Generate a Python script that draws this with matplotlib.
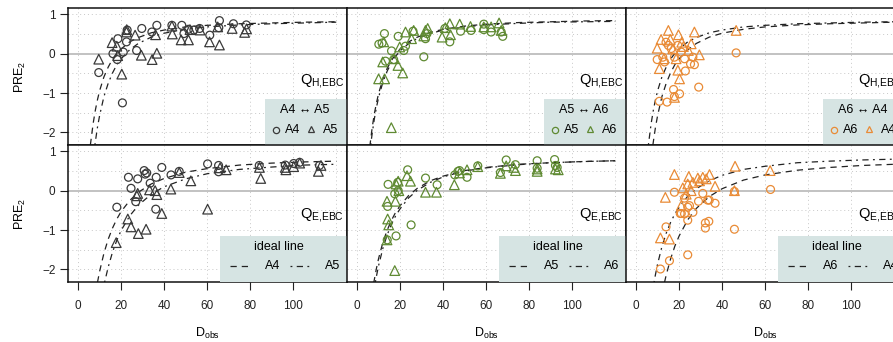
import matplotlib
matplotlib.use('Agg')
import matplotlib.pyplot as plt
from matplotlib.patches import Rectangle

plt.rcParams['font.family'] = ['Liberation Sans', 'DejaVu Sans']
plt.rcParams['mathtext.fontset'] = 'custom'
plt.rcParams['mathtext.rm'] = 'Liberation Sans'

# ---- observed points (D_obs, PRE_2) ----
tl_a4_d = [9.6, 16.2, 18.2, 18.5, 21.0, 20.6, 22.5, 27.2, 29.6, 34.3, 36.6, 43.6, 48.2, 49.2, 51.3, 56.5, 61.2, 65.7, 65.4, 72.2, 78.2, 22.8, 53.8]
tl_a4_y = [-0.48, 0.00, -0.15, 0.38, 0.04, -1.25, 0.30, 0.08, 0.64, 0.55, 0.72, 0.72, 0.72, 0.51, 0.62, 0.64, 0.47, 0.84, 0.66, 0.76, 0.73, 0.60, 0.60]
tl_a5_d = [9.6, 15.8, 18.0, 18.4, 20.3, 22.5, 22.6, 26.5, 29.4, 34.4, 36.6, 36.0, 43.6, 43.8, 47.9, 51.3, 52.0, 56.7, 61.1, 65.7, 64.9, 71.6, 77.4, 78.3]
tl_a5_y = [-0.14, 0.28, 0.19, -0.05, -0.52, 0.55, 0.61, 0.47, -0.04, -0.15, 0.01, 0.48, 0.70, 0.50, 0.35, 0.35, 0.61, 0.60, 0.30, 0.22, 0.68, 0.64, 0.54, 0.63]

tm_a5_d = [12.7, 10.1, 11.6, 19.1, 16.0, 13.2, 17.0, 22.5, 21.7, 26.0, 31.0, 31.8, 32.5, 40.8, 43.1, 48.1, 53.0, 58.9, 58.9, 62.3, 67.0, 67.7]
tm_a5_y = [0.51, 0.24, 0.27, 0.44, 0.07, -0.19, -0.15, 0.19, 0.08, 0.57, -0.08, 0.38, 0.51, 0.64, 0.30, 0.57, 0.59, 0.75, 0.61, 0.55, 0.55, 0.44]
tm_a6_d = [15.9, 10.0, 12.8, 11.9, 17.0, 19.0, 21.2, 19.8, 22.5, 26.3, 25.3, 31.8, 32.8, 39.5, 43.1, 43.4, 47.7, 52.7, 58.9, 62.3, 66.0, 67.0, 12.4, 41.0, 31.0]
tm_a6_y = [-1.88, -0.64, -0.64, -0.21, -0.13, -0.30, -0.49, 0.17, 0.55, 0.59, 0.38, 0.59, 0.64, 0.42, 0.76, 0.48, 0.75, 0.69, 0.68, 0.68, 0.78, 0.59, 0.30, 0.66, 0.45]

tr_a6_d = [46.5, 29.1, 10.8, 14.4, 17.4, 20.2, 17.8, 9.8, 12.4, 13.9, 15.0, 16.3, 13.2, 19.4, 21.0, 22.9, 25.3, 27.1, 26.4, 17.8, 22.5]
tr_a6_y = [0.02, -0.85, -1.21, -1.23, -0.91, -1.02, -1.09, -0.15, -0.09, 0.29, 0.21, 0.13, -0.21, 0.21, 0.04, -0.44, -0.26, -0.28, -0.09, -0.09, -0.13]
tr_a4_d = [15.0, 19.7, 27.1, 11.6, 9.8, 15.9, 21.2, 46.5, 10.8, 20.2, 17.8, 19.4, 29.4, 24.3, 12.9, 18.6, 25.6, 17.0, 22.0]
tr_a4_y = [0.59, 0.48, 0.55, 0.36, 0.14, 0.36, 0.29, 0.59, -0.38, -0.64, -1.11, -0.42, -0.03, 0.08, -0.13, -0.13, 0.25, 0.12, 0.18]

bl_a4_d = [18.0, 23.4, 24.6, 27.7, 26.8, 30.7, 31.2, 31.9, 33.5, 36.3, 36.1, 38.9, 43.2, 47.0, 60.2, 65.3, 65.3, 84.2, 96.3, 100.2, 103.0, 112.2]
bl_a4_y = [-0.42, 0.34, 0.06, 0.30, -0.28, 0.51, 0.42, 0.45, 0.19, 0.34, -0.47, 0.59, 0.40, 0.49, 0.68, 0.64, 0.48, 0.64, 0.65, 0.69, 0.72, 0.64]
bl_a5_d = [17.7, 23.1, 24.6, 28.0, 31.6, 27.3, 27.7, 33.2, 35.8, 36.6, 38.9, 43.1, 47.0, 52.4, 60.2, 66.0, 68.8, 84.3, 84.9, 96.3, 96.6, 100.2, 103.0, 111.7, 112.9]
bl_a5_y = [-1.32, -0.72, -0.92, -1.09, -0.98, -0.13, -0.07, 0.02, 0.00, -0.10, -0.58, 0.04, 0.46, 0.25, -0.47, 0.58, 0.53, 0.59, 0.31, 0.59, 0.53, 0.61, 0.70, 0.49, 0.64]

bm_a5_d = [23.5, 31.8, 37.2, 25.1, 18.1, 14.0, 14.2, 14.4, 18.9, 19.1, 17.5, 45.4, 46.9, 47.6, 51.1, 56.1, 66.6, 69.3, 73.6, 83.7, 83.7, 91.8, 92.2, 93.0]
bm_a5_y = [0.53, 0.32, 0.15, -0.87, -1.15, -1.25, -0.40, 0.16, 0.21, 0.00, -0.08, 0.40, 0.49, 0.51, 0.34, 0.63, 0.46, 0.78, 0.66, 0.76, 0.57, 0.79, 0.64, 0.59]
bm_a6_d = [17.5, 13.9, 14.7, 14.2, 13.9, 17.8, 18.1, 19.1, 23.2, 24.8, 31.8, 36.9, 45.2, 47.6, 51.1, 56.1, 66.6, 69.3, 72.8, 73.6, 83.7, 83.7, 92.2, 93.5, 19.4]
bm_a6_y = [-2.03, -1.25, -0.87, -0.72, -0.27, -0.27, 0.17, 0.24, 0.38, 0.24, -0.04, -0.04, 0.15, 0.45, 0.53, 0.61, 0.44, 0.63, 0.59, 0.51, 0.55, 0.49, 0.55, 0.53, 0.00]

br_a6_d = [62.5, 45.7, 45.7, 24.0, 15.5, 11.3, 13.9, 17.8, 22.5, 24.8, 21.0, 22.5, 24.0, 26.4, 29.0, 31.0, 33.3, 34.0, 36.7, 32.2, 32.2, 33.8, 24.0, 20.5]
br_a6_y = [0.03, -0.98, -0.02, -1.63, -1.78, -1.99, -0.92, -0.04, -0.19, -0.38, -0.58, -0.59, -0.75, -0.55, -0.27, -0.07, -0.24, -0.24, -0.32, -0.95, -0.82, -0.78, -0.42, -0.58]
br_a4_d = [46.0, 62.3, 17.8, 24.5, 28.7, 31.0, 34.1, 32.6, 36.7, 45.7, 13.6, 21.7, 24.0, 25.6, 11.3, 15.5, 21.0, 23.3, 26.4, 29.5]
br_a4_y = [0.62, 0.51, 0.41, 0.36, 0.32, 0.34, 0.41, 0.30, 0.11, 0.00, -0.17, 0.07, 0.17, 0.00, -1.20, -1.23, -0.38, -0.09, 0.21, 0.25]

# ---- ideal lines ----
top_d = [7, 8, 9, 10, 12, 14, 16, 18, 20, 24, 28, 34, 40, 50, 60, 75, 90, 105, 120]
bot_d = [10, 12, 14, 16, 18, 20, 24, 28, 34, 40, 50, 60, 75, 90, 105, 120]

top_upper = [-2.32, -1.77, -1.44, -1.17, -0.94, -0.59, -0.34, -0.14, 0.01, 0.12, 0.30, 0.41, 0.53, 0.60, 0.68, 0.72, 0.76, 0.78, 0.80, 0.81]
top_upper_d = [5.7] + top_d
top_lower = [-2.32, -2.24, -1.87, -1.57, -1.09, -0.75, -0.49, -0.28, -0.13, 0.10, 0.26, 0.42, 0.52, 0.62, 0.68, 0.73, 0.76, 0.78, 0.80]
top_lower_d = [7.8] + top_d[1:]
tm_line5 = [-2.36, -1.88, -1.53, -1.25, -1.01, -0.64, -0.37, -0.17, -0.01, 0.12, 0.30, 0.42, 0.54, 0.62, 0.70, 0.75, 0.79, 0.81, 0.83, 0.84]
tm_line5_d = [5.9] + top_d
tm_line6 = [-2.32, -2.03, -1.66, -1.36, -1.11, -0.72, -0.44, -0.23, -0.06, 0.07, 0.26, 0.39, 0.51, 0.60, 0.68, 0.73, 0.77, 0.80, 0.81, 0.82]
tm_line6_d = [6.3] + top_d

bl_line4 = [-2.33, -2.05, -1.59, -1.23, -0.95, -0.72, -0.53, -0.25, -0.04, 0.17, 0.31, 0.47, 0.56, 0.65, 0.70, 0.73, 0.75]
bl_line4_d = [9.0] + bot_d
bl_line5 = [-2.33, -1.94, -1.56, -1.26, -1.01, -0.64, -0.37, -0.09, 0.10, 0.30, 0.43, 0.54, 0.60, 0.65, 0.67]
bl_line5_d = [12.3] + bot_d[2:]
bm_line5 = [-2.35, -1.97, -1.72, -1.31, -1.00, -0.75, -0.54, -0.38, -0.12, 0.06, 0.25, 0.37, 0.51, 0.59, 0.67, 0.71, 0.74, 0.76]
bm_line5_d = [7.7, 9] + bot_d
bm_line6 = [-2.32, -2.17, -1.90, -1.46, -1.12, -0.85, -0.63, -0.46, -0.18, 0.01, 0.21, 0.35, 0.50, 0.58, 0.66, 0.71, 0.74, 0.76]
bm_line6_d = [8.5, 9] + bot_d
br_line6 = [-2.33, -2.14, -1.74, -1.41, -1.15, -0.74, -0.45, -0.15, 0.05, 0.27, 0.40, 0.52, 0.59, 0.64, 0.67]
br_line6_d = [13.2] + bot_d[2:]
br_line4 = [-2.34, -2.13, -1.86, -1.42, -1.08, -0.81, -0.59, -0.42, -0.14, 0.05, 0.25, 0.39, 0.54, 0.62, 0.71, 0.75, 0.78, 0.80]
br_line4_d = [8.3, 9] + bot_d

xticks = [0, 20, 40, 60, 80, 100]
yticks = [-2, -1, 0, 1]

GREY = '#3a3a3a'
GREEN = '#5f8a32'
ORANGE = '#e98b36'
BOX = '#d6e4e3'
DASH = (0, (5, 4))
DASHDOT = (0, (1.5, 3.5, 5, 3.5))

panels = [
    # row, col, color, names, Q label, circles, triangles, dashed line, dash-dot line
    (0, 0, GREY, ('A4', 'A5'), 'H', (tl_a4_d, tl_a4_y), (tl_a5_d, tl_a5_y),
     (top_upper_d, top_upper), (top_lower_d, top_lower)),
    (0, 1, GREEN, ('A5', 'A6'), 'H', (tm_a5_d, tm_a5_y), (tm_a6_d, tm_a6_y),
     (tm_line5_d, tm_line5), (tm_line6_d, tm_line6)),
    (0, 2, ORANGE, ('A6', 'A4'), 'H', (tr_a6_d, tr_a6_y), (tr_a4_d, tr_a4_y),
     (top_lower_d, top_lower), (top_upper_d, top_upper)),
    (1, 0, GREY, ('A4', 'A5'), 'E', (bl_a4_d, bl_a4_y), (bl_a5_d, bl_a5_y),
     (bl_line4_d, bl_line4), (bl_line5_d, bl_line5)),
    (1, 1, GREEN, ('A5', 'A6'), 'E', (bm_a5_d, bm_a5_y), (bm_a6_d, bm_a6_y),
     (bm_line5_d, bm_line5), (bm_line6_d, bm_line6)),
    (1, 2, ORANGE, ('A6', 'A4'), 'E', (br_a6_d, br_a6_y), (br_a4_d, br_a4_y),
     (br_line6_d, br_line6), (br_line4_d, br_line4)),
]

W, H = 893, 342
fig = plt.figure(figsize=(W / 100, H / 100), dpi=100)
col_x = [68, 347, 626]
row_y = [8, 145]
pw, ph = 279, 137

for row, col, color, names, q, circ, tri, l1, l2 in panels:
    ax = fig.add_axes([col_x[col] / W, 1 - (row_y[row] + ph) / H, pw / W, ph / H])
    ax.set_xlim(-4.7, 125)
    ax.set_ylim(-2.32, 1.16)
    for gx in range(0, 121, 20):
        ax.axvline(gx, color='#c8c8c8', lw=0.7, ls=(0, (1, 3)), zorder=0)
    for gy in [-2, -1.5, -1, -0.5, 0.5, 1]:
        ax.axhline(gy, color='#c8c8c8', lw=0.7, ls=(0, (1, 3)), zorder=0)
    ax.axhline(0, color='#bdbdbd', lw=1.3, zorder=1)

    ax.plot(l1[0], l1[1], color='#222222', lw=0.9, ls=DASH, zorder=2)
    ax.plot(l2[0], l2[1], color='#222222', lw=0.9, ls=DASHDOT, zorder=2)

    ax.scatter(circ[0], circ[1], s=32, facecolors='none', edgecolors=color,
               linewidths=0.9, marker='o', zorder=3)
    ax.scatter(tri[0], tri[1], s=48, facecolors='none', edgecolors=color,
               linewidths=0.9, marker='^', zorder=3)

    ax.text(0.99, 0.47 if row == 0 else 0.49, r'$\mathrm{Q_{%s{,}EBC}}$' % q,
            transform=ax.transAxes, ha='right', va='center', fontsize=10.5)

    if row == 0:
        ax.add_patch(Rectangle((0.706, 0), 0.3, 0.336, transform=ax.transAxes,
                               facecolor=BOX, edgecolor='none', zorder=4))
        ax.text(0.849, 0.255, f'{names[0]} \u2194 {names[1]}', transform=ax.transAxes,
                ha='center', va='center', fontsize=9, zorder=5)
        ax.plot([0.744], [0.11], marker='o', ms=4.5, mfc='none', mec=color, mew=0.9,
                transform=ax.transAxes, zorder=5)
        ax.text(0.806, 0.11, names[0], transform=ax.transAxes, ha='center',
                va='center', fontsize=9, zorder=5)
        ax.plot([0.872], [0.12], marker='^', ms=5, mfc='none', mec=color, mew=0.9,
                transform=ax.transAxes, zorder=5)
        ax.text(0.941, 0.11, names[1], transform=ax.transAxes, ha='center',
                va='center', fontsize=9, zorder=5)
        ax.set_xticks([])
    else:
        ax.add_patch(Rectangle((0.545, 0), 0.46, 0.336, transform=ax.transAxes,
                               facecolor=BOX, edgecolor='none', zorder=4))
        ax.text(0.755, 0.258, 'ideal line', transform=ax.transAxes,
                ha='center', va='center', fontsize=9, zorder=5)
        ax.plot([0.58, 0.645], [0.117, 0.117], color='#222222', lw=0.9, ls=DASH,
                transform=ax.transAxes, zorder=5)
        ax.text(0.733, 0.117, names[0], transform=ax.transAxes, ha='center',
                va='center', fontsize=9, zorder=5)
        ax.plot([0.795, 0.865], [0.117, 0.117], color='#222222', lw=0.9, ls=DASHDOT,
                transform=ax.transAxes, zorder=5)
        ax.text(0.948, 0.117, names[1], transform=ax.transAxes, ha='center',
                va='center', fontsize=9, zorder=5)
        ax.set_xticks(xticks)
        ax.tick_params(axis='x', direction='out', length=6, width=0.8, pad=7,
                       labelsize=8.5, colors='#222222')
        ax.set_xlabel(r'$\mathrm{D_{obs}}$', fontsize=9, labelpad=10)

    if col == 0:
        ax.set_yticks(yticks)
        ax.set_yticklabels(['\u22122', '\u22121', '0', '1'])
        ax.tick_params(axis='y', direction='out', length=6, width=0.8, pad=3,
                       labelsize=8.5, colors='#222222')
        ax.set_ylabel(r'$\mathrm{PRE_2}$', fontsize=9, labelpad=10)
    else:
        ax.set_yticks([])

    for sp in ax.spines.values():
        sp.set_linewidth(1.1)
        sp.set_color('#111111')

fig.savefig('out.png', dpi=100)
